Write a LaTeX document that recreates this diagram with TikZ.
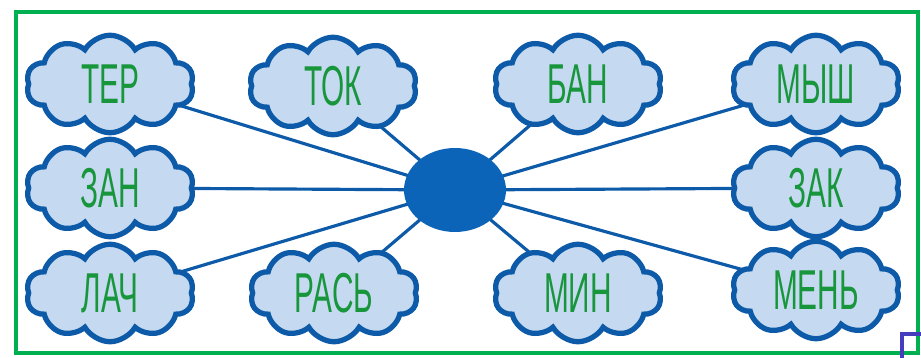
\documentclass[tikz,border=0pt]{standalone}
\usepackage{fontspec}
\newfontfamily\wortfont[FakeStretch=0.53]{Liberation Sans}
\usetikzlibrary{shapes.symbols,shapes.geometric,backgrounds}
\definecolor{rahmengruen}{RGB}{0,176,80}
\definecolor{textgruen}{RGB}{24,150,60}
\definecolor{wolkenblau}{RGB}{197,217,240}
\definecolor{linienblau}{RGB}{12,90,168}
\definecolor{kernblau}{RGB}{12,100,184}
\definecolor{eckviolett}{RGB}{70,60,190}
\tikzset{
	wolke/.style={cloud, cloud puffs=10, cloud puff arc=120, aspect=1.8, draw=linienblau, line width=3pt, fill=wolkenblau, minimum width=3.35cm, minimum height=1.95cm, inner sep=0pt, text=textgruen, font=\wortfont\fontsize{32}{32}\selectfont},
	strahl/.style={-, line width=1.8pt, draw=linienblau}
}
\begin{document}
\begin{tikzpicture}[x=0.02cm, y=-0.02cm]
		\useasboundingbox (0,0) rectangle (921,358);
		
		% zeichne Rahmen
		\draw[rahmengruen, line width=2.8pt] (16,12) rectangle (918,353);
		\draw[eckviolett, line width=2pt] (902,358) -- (902,334) -- (921,334);
		
		% zeichne Mitte
		\node[ellipse, fill=kernblau, minimum width=2.04cm, minimum height=1.68cm, inner sep=0pt] (kern) at (455,190) {};
		
		% zeichne Wolken
		\node[wolke] (ter) at (110,84) {ТЕР};
		\node[wolke] (tok) at (333,86) {ТОК};
		\node[wolke] (ban) at (578,84) {БАН};
		\node[wolke] (mysh) at (816,84) {МЫШ};
		\node[wolke] (zan) at (110,188) {ЗАН};
		\node[wolke] (zak) at (816,188) {ЗАК};
		\node[wolke] (lach) at (110,293) {ЛАЧ};
		\node[wolke] (ras) at (334,293) {РАСЬ};
		\node[wolke] (min) at (578,293) {МИН};
		\node[wolke] (men) at (816,290) {МЕНЬ};
		
		% zeichne Strahlen
		\begin{scope}[on background layer]
			\draw[strahl] (kern.center) -- (ter.center);
			\draw[strahl] (kern.center) -- (tok.center);
			\draw[strahl] (kern.center) -- (ban.center);
			\draw[strahl] (kern.center) -- (mysh.center);
			\draw[strahl] (kern.center) -- (zan.center);
			\draw[strahl] (kern.center) -- (zak.center);
			\draw[strahl] (kern.center) -- (lach.center);
			\draw[strahl] (kern.center) -- (ras.center);
			\draw[strahl] (kern.center) -- (min.center);
			\draw[strahl] (kern.center) -- (men.center);
		\end{scope}
	\end{tikzpicture}
\end{document}
